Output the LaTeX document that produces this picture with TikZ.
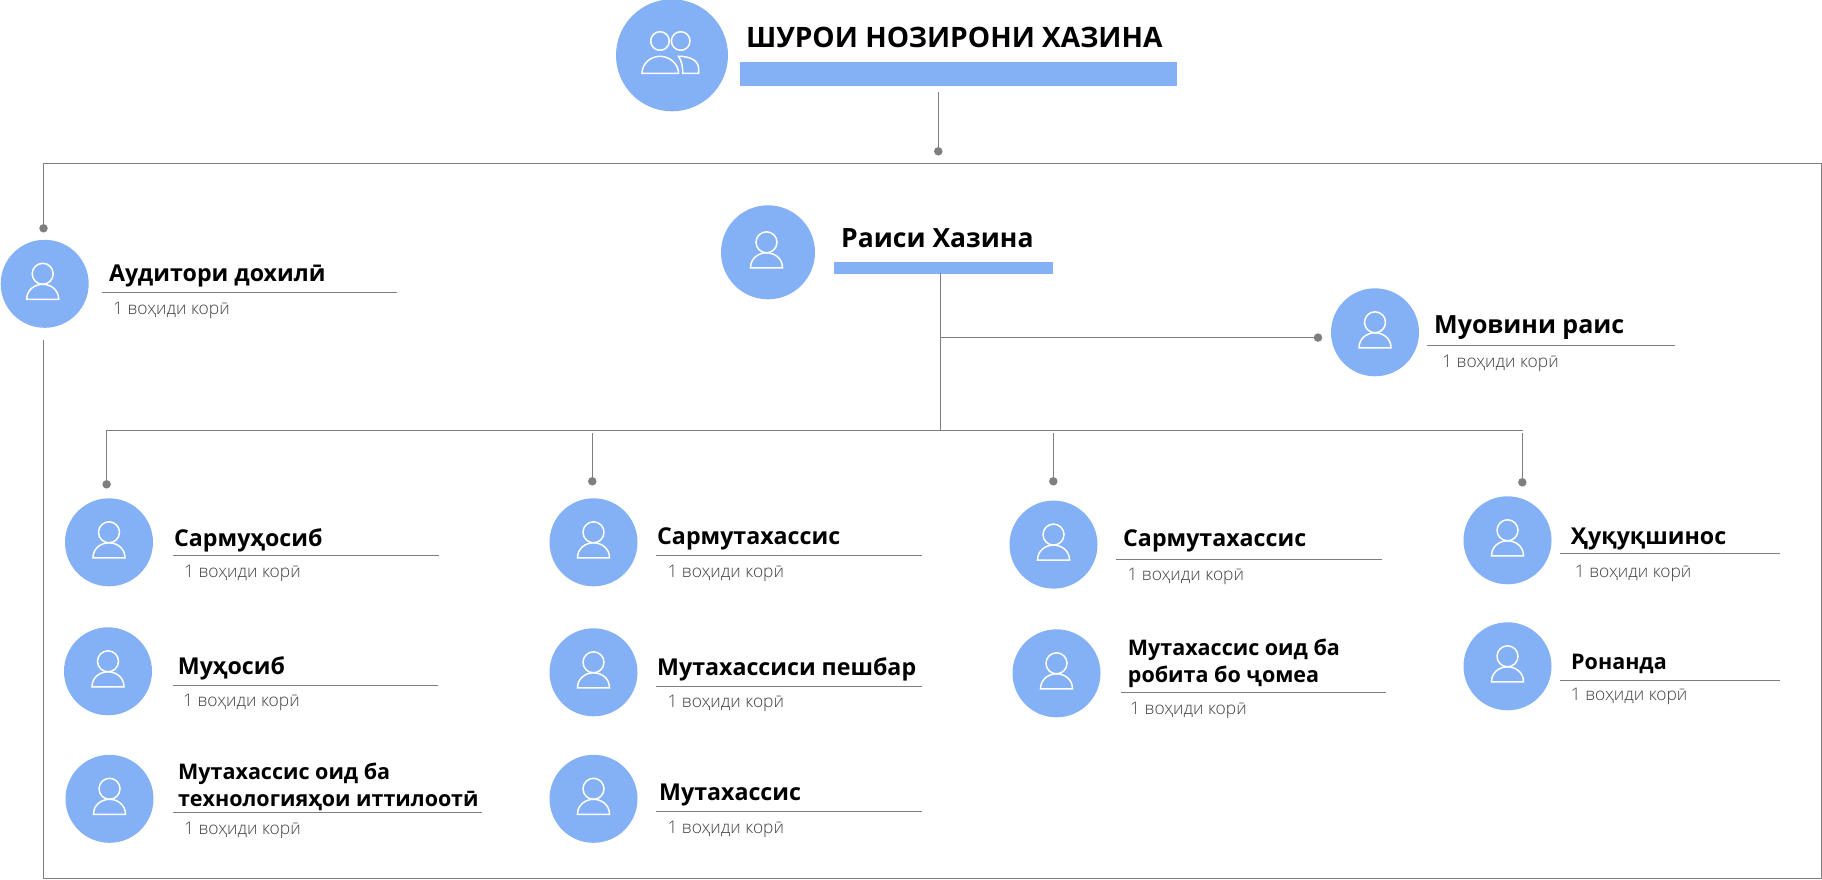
\documentclass[tikz,border=0pt]{standalone}
\usepackage{fontspec}
\usepackage{xcolor}
\setmainfont{Open Sans}
\newfontfamily\lightfont{Open Sans Light}
\usetikzlibrary{positioning}
\definecolor{orgblue}{HTML}{84B0F6}
\definecolor{orggray}{HTML}{7F7F7F}
\tikzset{
  personcircle/.style={circle,fill=orgblue,inner sep=0pt,minimum size=88pt},
  conn/.style={orggray,line width=1pt},
  enddot/.style={circle,fill=orggray,inner sep=0pt,minimum size=8.5pt},
  bluebar/.style={fill=orgblue,inner sep=0pt},
  roletitle/.style={anchor=base west,inner sep=0pt,align=left,font=\fontsize{23.2}{27}\selectfont\bfseries},
  longtitle/.style={roletitle,font=\fontsize{21.5}{27}\selectfont\bfseries},
  rolesub/.style={anchor=base west,inner sep=0pt,text=black!75,font=\fontsize{17.4}{20}\selectfont\lightfont},
  iconline/.style={draw=white,line width=1.5pt},
  usericon/.pic={
    \draw[iconline] (0,-10) circle[radius=10.5];
    \draw[iconline] (-16,15.5) .. controls (-16,6) and (-8,0.5) .. (0,0.5) .. controls (8,0.5) and (16,6) .. (16,15.5) -- cycle;
  },
  groupicon/.pic={
    \draw[iconline] (-12,-14.3) circle[radius=9.3];
    \draw[iconline] (8.7,-14.3) circle[radius=9.3];
    \draw[iconline] (-30,18) .. controls (-30,8) and (-21,1) .. (-12,1) .. controls (-3,1) and (6.5,8) .. (6.5,18) -- cycle;
    \draw[iconline] (6.5,1) .. controls (18,1) and (26.7,5) .. (26.7,14) -- (26.7,18) -- (10.7,18) .. controls (10.7,12) and (10,6) .. (6.5,1) -- cycle;
  }
}
\begin{document}
\begin{tikzpicture}[x=1pt,y=-1pt]
  \useasboundingbox (0,0.7) rectangle (1822,880.7);
  % top of the chart
  \node[personcircle,minimum size=112pt] (board) at (672,56) {};
  \pic at (board) {groupicon};
  \node[anchor=base west,inner sep=0pt,font=\fontsize{28.1}{32}\selectfont\bfseries] (boardtitle) at (746,48) {ШУРОИ НОЗИРОНИ ХАЗИНА};
  \node[bluebar,minimum width=437pt,minimum height=24pt] (boardbar) at (958.5,74.7) {};
  \node[enddot] (boarddot) at (938.3,152) {};
  \coordinate (boardline) at (938.3,93);
  \draw[conn] (boardline) -- (boarddot);
  % frame, open behind the auditor
  \node[enddot] (auditdot) at (43.5,229) {};
  \coordinate (frametl) at (43.5,164);
  \coordinate (frametr) at (1821,164);
  \coordinate (framebr) at (1821,879);
  \coordinate (framebl) at (43.5,879);
  \coordinate (frameend) at (43.5,341);
  \draw[conn] (auditdot) -- (frametl) -- (frametr) -- (framebr) -- (framebl) -- (frameend);
  % auditor
  \node[personcircle] (audit) at (44.7,284.5) {};
  \pic at ([xshift=-2pt]audit) {usericon};
  \node[roletitle] (audittitle) at (109,282) {Аудитори дохилӣ};
  \draw[conn] (101.7,293.3) -- (396.7,293.3);
  \node[rolesub] (auditsub) at (113,315) {1 воҳиди корӣ};
  % head
  \node[personcircle,minimum size=94pt] (raisi) at (768,253) {};
  \pic at ([xshift=-1.5pt]raisi) {usericon};
  \node[roletitle,font=\fontsize{26.5}{30}\selectfont\bfseries] (raisititle) at (841,248) {Раиси Хазина};
  \node[bluebar,minimum width=219pt,minimum height=12pt] (raisibar) at (943.5,268.7) {};
  % trunk and branches
  \coordinate (trunktop) at (940.5,274);
  \coordinate (trunkmid) at (940.5,338.3);
  \coordinate (trunkend) at (940.5,431.3);
  \node[enddot] (muovindot) at (1318,338.3) {};
  \draw[conn] (trunktop) -- (trunkend);
  \draw[conn] (trunkmid) -- (muovindot);
  \node[enddot] (col1dot) at (106.6,485) {};
  \node[enddot] (col2dot) at (592.3,482) {};
  \node[enddot] (col3dot) at (1053.3,482) {};
  \node[enddot] (col4dot) at (1522.3,483) {};
  \coordinate (branchl) at (106.6,431.3);
  \coordinate (branchr) at (1523,431.3);
  \coordinate (col2top) at (592.3,434);
  \coordinate (col3top) at (1053.3,434);
  \coordinate (col4top) at (1522.3,434);
  \draw[conn] (col1dot) -- (branchl) -- (branchr);
  \draw[conn] (col2top) -- (col2dot);
  \draw[conn] (col3top) -- (col3dot);
  \draw[conn] (col4top) -- (col4dot);
  % deputy
  \node[personcircle] (muovin) at (1375,333) {};
  \pic at (muovin) {usericon};
  \node[roletitle,font=\fontsize{25}{30}\selectfont\bfseries] (muovintitle) at (1434,334) {Муовини раис};
  \draw[conn] (1426.5,346.3) -- (1675,346.3);
  \node[rolesub] (muovinsub) at (1442,368) {1 воҳиди корӣ};
  % first column
  \node[personcircle] (sarmuhosib) at (109,543) {};
  \pic at (sarmuhosib) {usericon};
  \node[roletitle] (sarmuhosibtitle) at (174,546.7) {Сармуҳосиб};
  \draw[conn] (173.3,556) -- (439,556);
  \node[rolesub] (sarmuhosibsub) at (184,578) {1 воҳиди корӣ};
  \node[personcircle] (muhosib) at (108,672) {};
  \pic at (muhosib) {usericon};
  \node[roletitle] (muhosibtitle) at (177.7,675) {Муҳосиб};
  \draw[conn] (172.7,686) -- (438,686);
  \node[rolesub] (muhosibsub) at (183,707) {1 воҳиди корӣ};
  \node[personcircle] (muttech) at (109.5,799.5) {};
  \pic at (muttech) {usericon};
  \node[longtitle] (muttechtitle) at (178,807) {Мутахассис оид ба\\технологияҳои иттилоотӣ};
  \draw[conn] (173,813) -- (482,813);
  \node[rolesub] (muttechsub) at (184,835) {1 воҳиди корӣ};
  % second column
  \node[personcircle] (sarmut) at (593.5,543) {};
  \pic at (sarmut) {usericon};
  \node[roletitle] (sarmuttitle) at (657,545) {Сармутахассис};
  \draw[conn] (656.3,556.3) -- (922,556.3);
  \node[rolesub] (sarmutsub) at (667.3,578) {1 воҳиди корӣ};
  \node[personcircle] (mutpesh) at (593.5,673) {};
  \pic at (mutpesh) {usericon};
  \node[roletitle] (mutpeshtitle) at (657,676) {Мутахассиси пешбар};
  \draw[conn] (656.3,686.7) -- (922,686.7);
  \node[rolesub] (mutpeshsub) at (667.3,708) {1 воҳиди корӣ};
  \node[personcircle] (mut) at (593.5,799.5) {};
  \pic at (mut) {usericon};
  \node[roletitle] (muttitle) at (659,801) {Мутахассис};
  \draw[conn] (656.3,812.3) -- (922,812.3);
  \node[rolesub] (mutsub) at (667.3,834.3) {1 воҳиди корӣ};
  % third column
  \node[personcircle] (sarmutb) at (1053.5,545.3) {};
  \pic at (sarmutb) {usericon};
  \node[roletitle] (sarmutbtitle) at (1123,547) {Сармутахассис};
  \draw[conn] (1116.3,560.3) -- (1382,560.3);
  \node[rolesub] (sarmutbsub) at (1127.3,580.7) {1 воҳиди корӣ};
  \node[personcircle] (mutpr) at (1056.5,674) {};
  \pic at (mutpr) {usericon};
  \node[longtitle] (mutprtitle) at (1127.7,683.3) {Мутахассис оид ба\\робита бо ҷомеа};
  \draw[conn] (1120.7,693.3) -- (1386,693.3);
  \node[rolesub] (mutprsub) at (1130,715) {1 воҳиди корӣ};
  % fourth column
  \node[personcircle] (huquq) at (1507.5,541) {};
  \pic at (huquq) {usericon};
  \node[roletitle] (huquqtitle) at (1570.7,545) {Ҳуқуқшинос};
  \draw[conn] (1559.7,554.3) -- (1780,554.3);
  \node[rolesub] (huquqsub) at (1574.7,578) {1 воҳиди корӣ};
  \node[personcircle] (ronanda) at (1507.5,667) {};
  \pic at (ronanda) {usericon};
  \node[longtitle] (ronandatitle) at (1571,670) {Ронанда};
  \draw[conn] (1559.7,681.3) -- (1780,681.3);
  \node[rolesub] (ronandasub) at (1570.7,701.6) {1 воҳиди корӣ};
\end{tikzpicture}
\end{document}
